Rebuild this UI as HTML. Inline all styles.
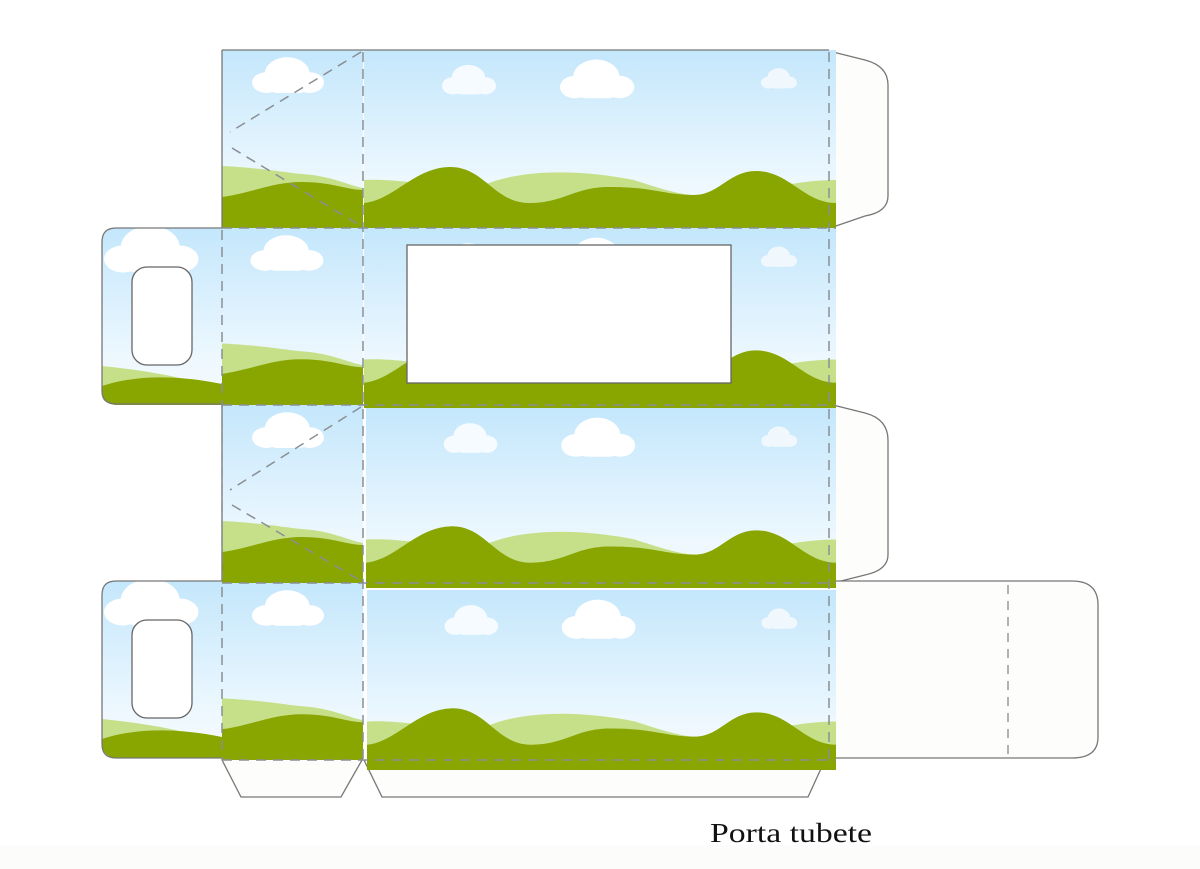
<!DOCTYPE html>
<html><head><meta charset="utf-8"><style>
html,body{margin:0;padding:0;background:#fff;width:1200px;height:869px;overflow:hidden}
svg{display:block}
</style></head><body>
<svg width="1200" height="869" viewBox="0 0 1200 869" xmlns="http://www.w3.org/2000/svg">
<defs>
<linearGradient id="sky" x1="0" y1="0" x2="0" y2="1">
<stop offset="0" stop-color="#c4e7fc"/><stop offset="0.75" stop-color="#eef8fe"/><stop offset="1" stop-color="#f6fbff"/>
</linearGradient>
<g id="cloud"><circle cx="22" cy="16" r="14"/><circle cx="9" cy="24" r="9"/><circle cx="36" cy="24" r="9"/><rect x="9" y="18" width="27" height="15" rx="7"/></g>
<symbol id="main" viewBox="0 0 472 178" preserveAspectRatio="none">
<rect width="472" height="178" fill="url(#sky)"/>
<use href="#cloud" fill="#f5fbff" transform="translate(78,13) scale(1.2,0.95)"/>
<use href="#cloud" fill="#fff" transform="translate(196,7) scale(1.65,1.25)"/>
<use href="#cloud" fill="#f0f8fd" transform="translate(397,17) scale(0.8,0.65)"/>
<path d="M0,130 C40,128 80,140 120,135 C160,118 220,120 270,130 C300,140 320,145 330,145 L400,140 C430,132 455,130 472,130 L472,178 L0,178Z" fill="#c6e08a"/>
<path d="M0,153 C30,150 50,118 85,117 C120,116 130,153 165,153 C200,153 210,137 245,137 C290,137 300,145 330,145 C355,145 365,121 392,121 C425,121 440,153 472,153 L472,178 L0,178Z" fill="#89a500"/>
</symbol>
<symbol id="small" viewBox="0 0 141 178" preserveAspectRatio="none">
<rect width="141" height="178" fill="url(#sky)"/>
<use href="#cloud" fill="#fff" transform="translate(30,5) scale(1.6,1.15)"/>
<path d="M0,116 C40,118 60,122 80,124 C110,126 125,135 141,138 L141,178 L0,178Z" fill="#c6e08a"/>
<path d="M0,147 C30,143 50,132 80,132 C110,132 125,140 141,140 L141,178 L0,178Z" fill="#89a500"/>
</symbol>
<symbol id="handle" viewBox="0 0 120 177" preserveAspectRatio="none">
<rect width="120" height="177" fill="url(#sky)"/>
<use href="#cloud" fill="#fff" transform="translate(2,-5) scale(2.1,1.5)"/>
<path d="M0,138 C40,142 80,148 120,162 L120,177 L0,177Z" fill="#c6e08a"/>
<path d="M0,158 C30,148 70,146 120,156 L120,177 L0,177Z" fill="#89a500"/>
</symbol>
<clipPath id="h2"><rect x="102" y="228" width="140" height="177" rx="14"/></clipPath>
<clipPath id="h4"><rect x="102" y="581" width="140" height="177" rx="14"/></clipPath>
</defs>

<rect x="0" y="845" width="1200" height="24" fill="#fcfcfa"/>

<path d="M833,52 L865,60 Q888,66 888,85 L888,196 Q888,212 865,216 L833,227" fill="#fdfdfb" stroke="#777" stroke-width="1.3"/>
<path d="M833,405 L865,413 Q888,419 888,440 L888,555 Q888,570 865,575 L833,583" fill="#fdfdfb" stroke="#777" stroke-width="1.3"/>
<path d="M833,581 L1072,581 Q1098,581 1098,605 L1098,737 Q1098,758 1072,758 L833,758" fill="#fdfdfb" stroke="#777" stroke-width="1.3"/>
<line x1="1008" y1="585" x2="1008" y2="756" stroke="#999" stroke-width="1.5" stroke-dasharray="9,7"/>

<path d="M222,760 L241,797 L341,797 L362,760" fill="#fdfdfb" stroke="#777" stroke-width="1.3"/>
<path d="M364,760 L382,797 L808,797 L825,760" fill="#fdfdfb" stroke="#777" stroke-width="1.3"/>

<use href="#main" x="364" y="50" width="472" height="178"/>
<use href="#main" x="364" y="228" width="472" height="180"/>
<use href="#main" x="366" y="408" width="470" height="180"/>
<use href="#main" x="367" y="590" width="469" height="180"/>
<use href="#small" x="222" y="50" width="141" height="178"/>
<use href="#small" x="220" y="228" width="143" height="177"/>
<use href="#small" x="222" y="405" width="141" height="178"/>
<use href="#small" x="222" y="583" width="141" height="177"/>
<g clip-path="url(#h2)"><use href="#handle" x="102" y="228" width="120" height="177"/></g>
<g clip-path="url(#h4)"><use href="#handle" x="102" y="581" width="120" height="177"/></g>
<path d="M222,228 L116,228 Q102,228 102,242 L102,391 Q102,404 116,404 L222,404" fill="none" stroke="#777" stroke-width="1.3"/>
<path d="M222,581 L116,581 Q102,581 102,595 L102,744 Q102,758 116,758 L222,758" fill="none" stroke="#777" stroke-width="1.3"/>
<rect x="132" y="267" width="60" height="98" rx="15" fill="#fff" stroke="#666" stroke-width="1.3"/>
<rect x="132" y="620" width="60" height="98" rx="15" fill="#fff" stroke="#666" stroke-width="1.3"/>

<rect x="407" y="245" width="324" height="138" fill="#fff" stroke="#666" stroke-width="1.3"/>

<line x1="222" y1="50" x2="829" y2="50" stroke="#777" stroke-width="1.3"/>
<line x1="222" y1="50" x2="222" y2="228" stroke="#777" stroke-width="1.3"/>
<line x1="222" y1="405" x2="222" y2="581" stroke="#777" stroke-width="1.3"/>

<g stroke="#8a8f94" stroke-width="1.5" stroke-dasharray="10,7" fill="none">
<line x1="363" y1="52" x2="363" y2="760"/>
<line x1="829" y1="52" x2="829" y2="760"/>
<line x1="222" y1="230" x2="222" y2="760"/>
<line x1="222" y1="228" x2="836" y2="228"/>
<line x1="222" y1="405" x2="836" y2="405"/>
<line x1="222" y1="583" x2="836" y2="583"/>
<line x1="222" y1="760" x2="836" y2="760"/>
<path d="M361,52 L230,132 M232,148 L361,226"/>
<path d="M361,407 L230,490 M232,505 L361,581"/>
</g>

<text x="710" y="842" font-family="Liberation Serif, serif" font-size="27" fill="#111" textLength="162" lengthAdjust="spacingAndGlyphs">Porta tubete</text>
</svg>
</body></html>
